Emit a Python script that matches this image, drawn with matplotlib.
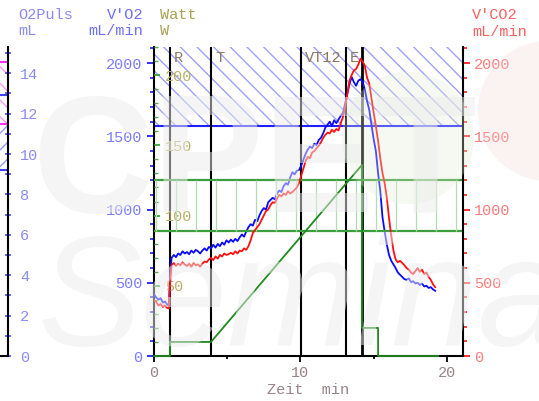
import numpy as np
import matplotlib.pyplot as plt
from matplotlib.patches import Circle
from matplotlib.transforms import IdentityTransform, blended_transform_factory

plt.rcParams['font.family'] = ['Liberation Mono', 'DejaVu Sans Mono']
plt.rcParams['font.size'] = 11
plt.rcParams['hatch.linewidth'] = 1.0

# Zeit in min
t_vo2 = [0.0, 0.15, 0.3, 0.45, 0.6, 0.75, 0.9, 1.02, 1.1, 1.2, 1.35, 1.5, 1.65, 1.8, 1.95,
         2.1, 2.25, 2.4, 2.55, 2.7, 2.85, 3.0, 3.15, 3.3, 3.45, 3.6, 3.75, 3.9, 4.05, 4.2,
         4.35, 4.5, 4.65, 4.8, 4.95, 5.1, 5.25, 5.4, 5.55, 5.7, 5.85, 6.0, 6.15, 6.3, 6.45,
         6.6, 6.75, 6.9, 7.05, 7.2, 7.35, 7.5, 7.65, 7.8, 7.95, 8.1, 8.25, 8.4, 8.55, 8.7,
         8.85, 9.0, 9.15, 9.3, 9.45, 9.6, 9.75, 9.9, 10.05, 10.2, 10.35, 10.5, 10.65, 10.8,
         10.95, 11.1, 11.25, 11.4, 11.55, 11.7, 11.85, 12.0, 12.15, 12.3, 12.45, 12.6, 12.75,
         12.9, 13.05, 13.2, 13.35, 13.5, 13.65, 13.8, 13.95, 14.1, 14.25, 14.4, 14.55, 14.7,
         14.85, 15.0, 15.15, 15.3, 15.45, 15.6, 15.75, 15.9, 16.05, 16.2, 16.35, 16.5, 16.65,
         16.8, 16.95, 17.1, 17.25, 17.4, 17.55, 17.7, 17.85, 18.0, 18.15, 18.3, 18.45, 18.6,
         18.75, 18.9, 19.05, 19.2]
t_vco2 = t_vo2

vo2 = [420, 400, 385, 395, 365, 372, 352, 345, 560, 670, 690, 675, 700, 690, 715,
       700, 710, 695, 720, 705, 725, 715, 700, 720, 735, 720, 745, 735, 760, 740,
       765, 750, 775, 760, 790, 775, 795, 780, 800, 785, 810, 830, 815, 850, 880,
       900, 890, 930, 920, 960, 990, 1010, 1000, 1050, 1065, 1080, 1070, 1110, 1130, 1120,
       1160, 1180, 1170, 1220, 1255, 1240, 1265, 1270, 1300, 1340, 1380, 1410, 1430, 1420,
       1450, 1440, 1475, 1490, 1520, 1560, 1580, 1600, 1570, 1610, 1590, 1615, 1640,
       1660, 1720, 1790, 1860, 1905, 1870, 1845, 1880, 1890, 1870, 1820, 1740, 1680,
       1580, 1480, 1400, 1250, 1130, 950, 850, 760, 690, 650, 625, 600, 570,
       555, 540, 525, 520, 530, 505, 510, 495, 500, 485, 495, 475, 480,
       465, 470, 455, 445]

vco2 = [380, 370, 345, 355, 335, 345, 328, 325, 500, 620, 635, 615, 630, 620, 640,
        625, 615, 630, 610, 635, 620, 625, 610, 630, 645, 640, 660, 670, 655, 680,
        665, 690, 680, 700, 690, 695, 705, 695, 715, 700, 720, 715, 735, 725, 750,
        790, 840, 860, 880, 900, 930, 960, 990, 1000, 1030, 1050, 1045, 1075, 1100, 1090,
        1110, 1100, 1125, 1110, 1120, 1135, 1150, 1180, 1230, 1280, 1330, 1360, 1350, 1390,
        1400, 1420, 1435, 1460, 1490, 1510, 1525, 1520, 1545, 1530, 1550, 1540, 1590,
        1630, 1700, 1790, 1880, 1920, 1950, 1960, 1990, 2030, 2010, 1980, 1900, 1860,
        1760, 1660, 1570, 1470, 1350, 1250, 1180, 1080, 940, 820, 720, 660, 640,
        650, 635, 620, 600, 590, 570, 560, 580, 600, 575, 590, 560, 570,
        540, 520, 490, 470]

# Belastung
t_watt = [0, 1.09, 1.09, 3.89, 14.2, 14.2, 15.3, 15.3, 19.4]
watt = [0, 0, 10, 10, 136, 20, 20, 0, 0]

# Marker
event_names = ['R', 'T', 'VT12', 'E', '']
event_times = [1.09, 3.89, 10.04, 13.11, 14.2]

vo2_limit = 1570          # obere Grenze V'O2 (schraffiert darueber)
watt_band = (89, 125)     # Zielbereich Watt

o2puls_lines = [14.55, 12.9, 11.5, 9.2]
o2puls_colors = ['#ff30ff', '#4040ff', '#ff30ff', '#4040ff']

W, H = 539, 401


def px(x0, y0, x1, y1):
    return [x0 / W, 1 - y1 / H, (x1 - x0) / W, (y1 - y0) / H]


fig = plt.figure(figsize=(W / 100, H / 100), dpi=100)

# --- O2Puls Achse (links, angeschnitten) ---
ax0 = fig.add_axes(px(-40, 47, 8, 356))
ax0.set_xlim(0, 1)
ax0.set_ylim(0, 15.3)
ax0.axhspan(11.5, 14.55, facecolor='none', edgecolor='#ff99ff', hatch='\\\\', linewidth=0)
ax0.axhspan(9.2, 11.5, facecolor='none', edgecolor='#9999ff', hatch='//', linewidth=0)
for y, c in zip(o2puls_lines, o2puls_colors):
    ax0.axhline(y, color=c, lw=1.5)
for s in ['left', 'top']:
    ax0.spines[s].set_visible(False)
ax0.spines['right'].set_color('black')
ax0.spines['right'].set_linewidth(1.5)
ax0.spines['bottom'].set_linewidth(1.5)
ax0.set_xticks([])
ax0.yaxis.tick_right()
ax0.set_yticks(range(0, 15, 2))
ax0.set_yticks(range(1, 16, 2), minor=True)
ax0.tick_params(axis='y', which='major', direction='inout', length=5, width=1.2,
                color='#4a4aff', labelcolor='#8c8cf0', pad=6)
ax0.tick_params(axis='y', which='minor', direction='inout', length=4, width=1.2,
                color='#4a4aff')

# --- Hauptachse V'O2 ---
ax = fig.add_axes(px(154, 47, 463, 356))
ax.set_xlim(0, 21.1)
ax.set_ylim(0, 2110)
ax.patch.set_alpha(0)

ax.axhspan(vo2_limit, 2110, facecolor='none', edgecolor='#a0a0ff', hatch='\\\\', linewidth=0)
ax.axhline(vo2_limit, color='#1e1eff', lw=1.5)

for t in event_times[:-1]:
    ax.axvline(t, color='black', lw=1.5)
ax.axvline(event_times[-1], color='black', lw=2)

trans = blended_transform_factory(ax.transData, ax.transAxes)
for name, t in zip(event_names, event_times):
    if name:
        ax.annotate(name, (t, 0.965), xycoords=trans, xytext=(3, 0),
                    textcoords='offset points', va='center', ha='left',
                    color='#8a7862')

ax.plot(t_vo2, vo2, color='#0a0aff', lw=1.3, zorder=4)

for s in ['top', 'right']:
    ax.spines[s].set_visible(False)
ax.spines['left'].set_linewidth(1.5)
ax.spines['bottom'].set_linewidth(1.5)

ax.set_yticks(range(0, 2001, 500))
ax.set_yticks(range(0, 2101, 100), minor=True)
ax.tick_params(axis='y', which='major', direction='out', length=5, width=1.3,
               color='#2020ff', labelcolor='#7c7cff', pad=3.5)
ax.tick_params(axis='y', which='minor', direction='out', length=3, width=1.2,
               color='#2020ff')
ax.set_xticks([0, 10, 20])
ax.set_xticks([5, 15], minor=True)
ax.tick_params(axis='x', which='major', direction='out', length=4, width=1.3,
               color='black', labelcolor='#9a8288', pad=3)
ax.tick_params(axis='x', which='minor', direction='out', length=2, width=1.3)
ax.set_xlabel('Zeit  min', color='#9a8288', labelpad=2)

# --- Watt ---
ax_w = ax.twinx()
ax_w.set_ylim(0, 220)
for s in ax_w.spines.values():
    s.set_visible(False)
ax_w.axhline(watt_band[0], color='#3c9e3c', lw=1.6)
ax_w.axhline(watt_band[1], color='#3c9e3c', lw=1.6)
ax_w.vlines(np.arange(0.14, 21.0, 1.366), watt_band[0], watt_band[1],
            colors='#b4dcb4', lw=0.9)
ax_w.plot(t_watt, watt, color='#1f8a1f', lw=1.3, clip_on=False, zorder=5)
ax_w.yaxis.tick_left()
ax_w.set_yticks(range(50, 201, 50))
ax_w.set_yticks(range(0, 221, 10), minor=True)
ax_w.tick_params(axis='y', which='major', direction='in', length=4, width=1.2,
                 color='#2a9a2a', labelcolor='#b8b068', pad=-8)
ax_w.tick_params(axis='y', which='minor', direction='in', length=3, width=1.0,
                 color='#5aaa5a')
for lbl in ax_w.get_yticklabels():
    lbl.set_horizontalalignment('left')

# --- V'CO2 ---
ax_c = ax.twinx()
ax_c.set_ylim(0, 2110)
for s in ['top', 'left', 'bottom']:
    ax_c.spines[s].set_visible(False)
ax_c.spines['right'].set_linewidth(1.5)
ax_c.plot(t_vco2, vco2, color='#ff1010', lw=1.3, zorder=4)
ax_c.set_yticks(range(0, 2001, 500))
ax_c.set_yticks(range(0, 2101, 100), minor=True)
ax_c.tick_params(axis='y', which='major', direction='out', length=5, width=1.3,
                 color='#ff2020', labelcolor='#ff7c7c', pad=3)
ax_c.tick_params(axis='y', which='minor', direction='out', length=3, width=1.2,
                 color='#ff2020')

# --- Kopfzeilen ---
def head(x, y, s, color, ha='left'):
    fig.text(x / W, 1 - y / H, s, color=color, ha=ha, va='center')

head(18, 15, 'O2Puls', '#8c8cf0')
head(18, 31, 'mL', '#8c8cf0')
head(143, 15, "V'O2", '#6e6eff', ha='right')
head(143, 31, 'mL/min', '#6e6eff', ha='right')
head(160, 15, 'Watt', '#a8a050')
head(160, 31, 'W', '#a8a050')
head(472, 15, "V'CO2", '#ff6060')
head(472, 32, 'mL/min', '#ff6060')

# --- Wasserzeichen ---
for (cx, cy, r, c) in [(408, 263, 66, '#e4eed4'), (548, 290, 70, '#f4d4d4')]:
    fig.add_artist(Circle((cx, cy), r, transform=IdentityTransform(),
                          facecolor=c, edgecolor='none', alpha=0.3, zorder=9))
fig.text(32 / W, 1 - 212 / H, 'CPET', fontsize=120, fontweight='bold',
         family='Liberation Sans', color='#ececec', alpha=0.5, zorder=10,
         va='baseline')
fig.text(38 / W, 1 - 345 / H, 'Seminare', fontsize=112, style='italic',
         family='Liberation Sans', color='#ececec', alpha=0.5, zorder=10,
         va='baseline')

fig.savefig('out.png', dpi=100)
